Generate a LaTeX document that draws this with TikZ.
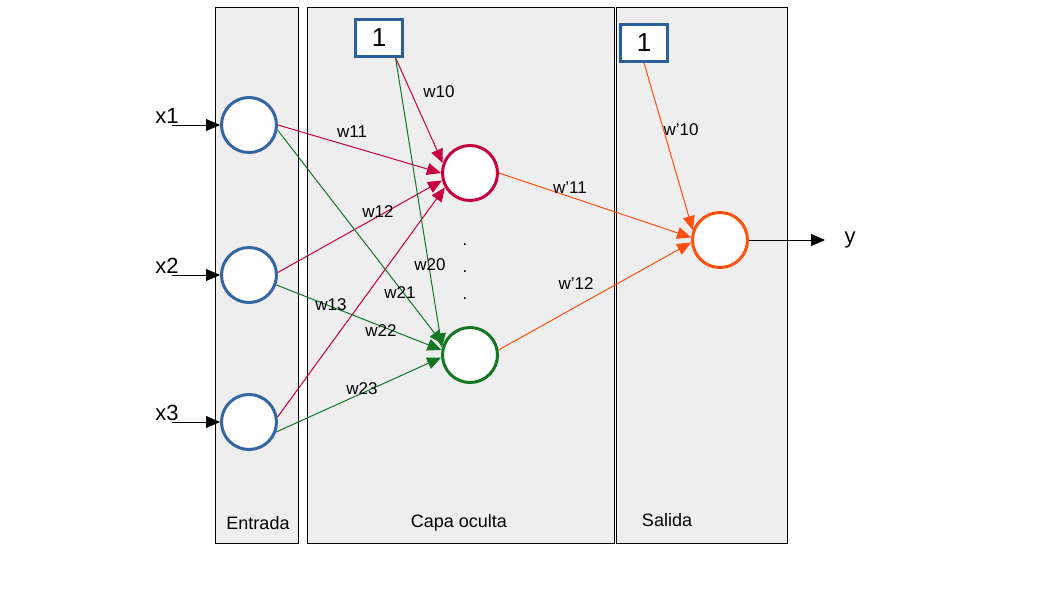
\documentclass[tikz,border=0pt]{standalone}
\usepackage{fontspec}
\setmainfont{Liberation Sans}
\usetikzlibrary{arrows.meta}

\definecolor{inblue}{RGB}{52,101,164}
\definecolor{boxblue}{RGB}{42,96,153}
\definecolor{hidred}{RGB}{199,0,62}
\definecolor{hidgreen}{RGB}{18,118,34}
\definecolor{outorange}{RGB}{255,80,16}
\definecolor{panelgray}{RGB}{238,238,238}

\tikzset{
    neuron/.style={circle, draw=#1, line width=1.5pt, fill=white, minimum size=27.5pt, inner sep=0pt},
    biasbox/.style={rectangle, draw=boxblue, line width=1.2pt, fill=white, minimum width=23.5pt, minimum height=18.5pt, inner sep=0pt, font=\fontsize{13}{15}\selectfont},
    link/.style={draw=#1, line width=0.5pt, -{Triangle[length=7pt,width=6pt]}},
    iolink/.style={draw=black, line width=0.5pt, -{Triangle[length=7pt,width=6pt]}},
    wlabel/.style={font=\fontsize{8.5}{10}\selectfont},
    iolabel/.style={font=\fontsize{11}{13}\selectfont},
    layer/.style={draw=black, line width=0.5pt, fill=panelgray},
    layername/.style={font=\fontsize{9}{11}\selectfont},
}

\begin{document}
\begin{tikzpicture}[x=0.5pt, y=-0.5pt]

            \useasboundingbox (0,0) rectangle (1058,595);

            % Layers
            \draw[layer] (215,7) rectangle (298,543);
            \draw[layer] (307,7) rectangle (614,543);
            \draw[layer] (616,7) rectangle (787,543);
            \node[layername] (entrada) at (258,523) {Entrada};
            \node[layername] (oculta) at (459,523) {Capa oculta};
            \node[layername] (salida) at (667,520) {Salida};

            % Neurons
            \foreach \y [count=\i] in {125,275,422} {
                \node[neuron=inblue] (in\i) at (249,\y) {};
                \coordinate (x\i s) at (172,\y);
                \node[iolabel] (x\i) at (167,\y-9) {x\i};
                \draw[iolink] (x\i s) -- (in\i);
            }
            \node[neuron=hidred] (hid1) at (470,173) {};
            \node[neuron=hidgreen] (hid2) at (470,355) {};
            \node[neuron=outorange] (out) at (720,240) {};

            % Bias
            \node[biasbox] (b1) at (379,38) {1};
            \node[biasbox] (b2) at (644,43) {1};

            % Hidden layer links
            \draw[link=hidred] (in1.0) -- (hid1.180);
            \draw[link=hidred] (in2.5) -- (hid1.195);
            \draw[link=hidred] (in3.10) -- (hid1.210);
            \draw[link=hidred] (b1.-50) -- (hid1.160);
            \draw[link=hidgreen] (in1.-10) -- (hid2.158);
            \draw[link=hidgreen] (in2.-20) -- (hid2.170);
            \draw[link=hidgreen] (in3.-20) -- (hid2.185);
            \draw[link=hidgreen] (b1.-50) -- (hid2.165);

            % Output links
            \draw[link=outorange] (hid1.0) -- (out.175);
            \draw[link=outorange] (hid2.10) -- (out.185);
            \draw[link=outorange] (b2.south) -- (out.160);
            \coordinate (yend) at (825,240);
            \draw[iolink] (out) -- (yend);
            \node[iolabel] (ylab) at (850,240) {y};

            % Weights
            \node[wlabel] (w10) at (439,92) {w10};
            \node[wlabel] (w11) at (352,132) {w11};
            \node[wlabel] (w12) at (378,212) {w12};
            \node[wlabel] (w13) at (331,305) {w13};
            \node[wlabel] (w20) at (430,265) {w20};
            \node[wlabel] (w21) at (400,293) {w21};
            \node[wlabel] (w22) at (381,331) {w22};
            \node[wlabel] (w23) at (362,389) {w23};
            \node[wlabel] (wp10) at (681,130) {w'10};
            \node[wlabel] (wp11) at (570,188) {w'11};
            \node[wlabel] (wp12) at (576,284) {w'12};

            % Dots
            \foreach \y [count=\k] in {245,272,299} {
                \node[wlabel] (dot\k) at (465,\y) {.};
            }

\end{tikzpicture}
\end{document}
